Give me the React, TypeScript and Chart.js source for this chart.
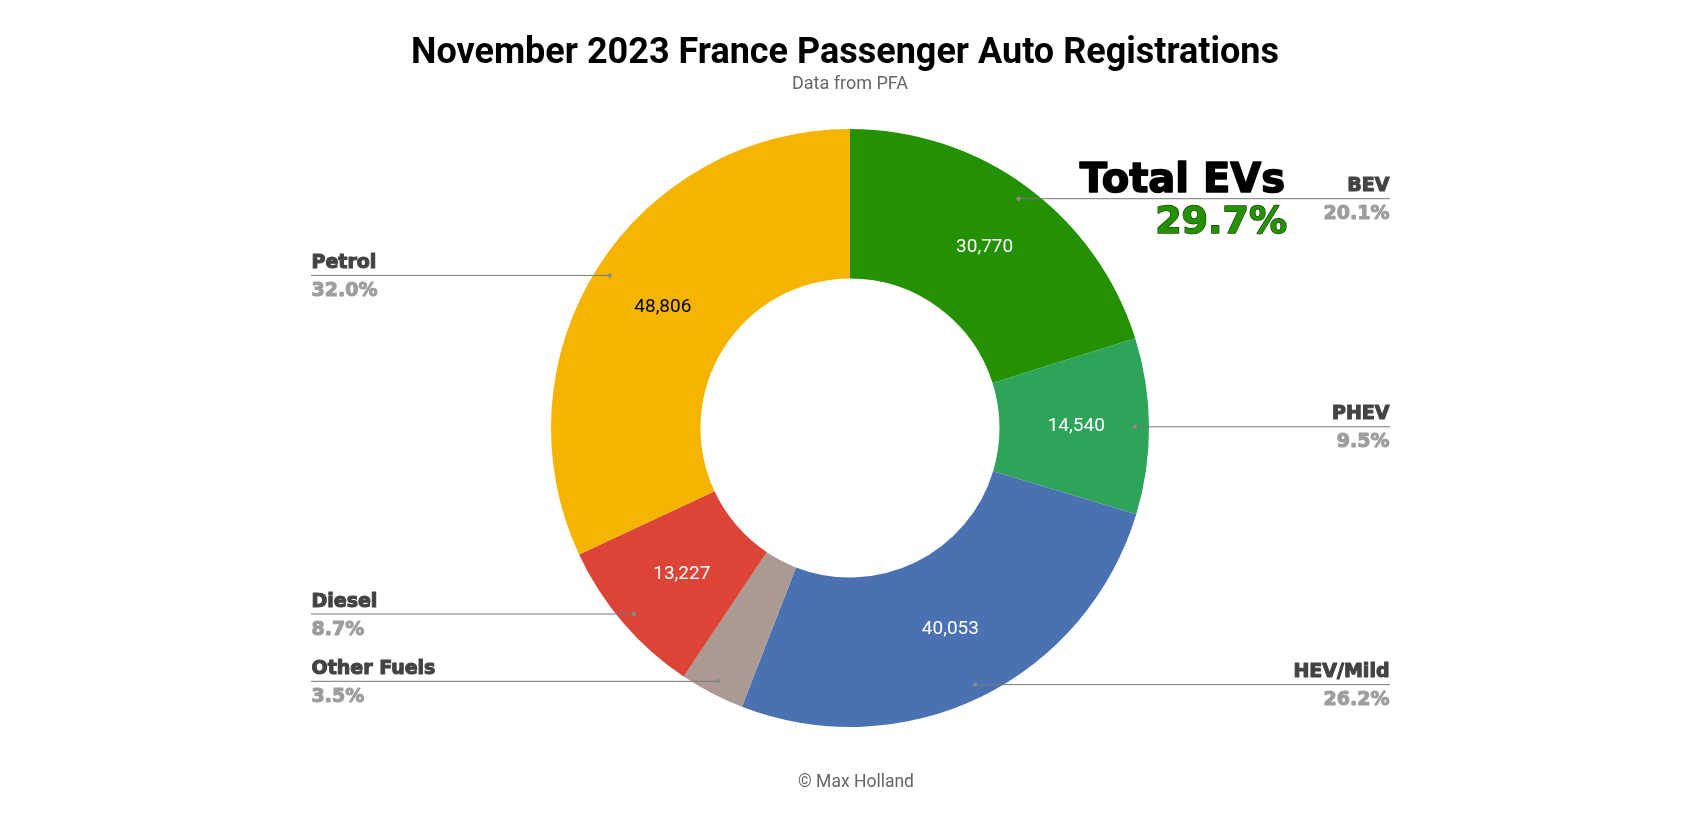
import React, { useEffect, useRef } from 'react';
import { Chart, registerables } from 'chart.js';

Chart.register(...registerables);

// fuel types, clockwise from 12 o'clock
const categories = ['BEV', 'PHEV', 'HEV/Mild', 'Other Fuels', 'Diesel', 'Petrol'];
const registrations = [30770, 14540, 40053, 5350, 13227, 48806];
const sliceColors = ['#239100', '#2ea45b', '#4a72b3', '#ab9a91', '#db4437', '#f4b400'];
const valueColors = ['#ffffff', '#ffffff', '#ffffff', '', '#ffffff', '#000000'];
const labelSides = ['right', 'right', 'right', 'left', 'left', 'left'];
const evCategories = ['BEV', 'PHEV'];

const titleText = 'November 2023 France Passenger Auto Registrations';
const subtitleText = 'Data from PFA';
const footerText = '\u00a9 Max Holland';

const HEAVY = '"DejaVu Sans", sans-serif';
const ROBOTO = 'Roboto, "Noto Sans", sans-serif';

const total = registrations.reduce((a, b) => a + b, 0);
const pct = (v: number) => ((v / total) * 100).toFixed(1) + '%';
const evShare = pct(
  categories.reduce((s, c, i) => (evCategories.includes(c) ? s + registrations[i] : s), 0)
);

// fill + same-colour stroke to fake a black-weight face
const heavyText = (ctx: CanvasRenderingContext2D, t: string, x: number, y: number, fill: string, stroke: string, w: number) => {
  ctx.fillStyle = fill;
  ctx.strokeStyle = stroke;
  ctx.lineWidth = w;
  ctx.lineJoin = 'round';
  ctx.strokeText(t, x, y);
  ctx.fillText(t, x, y);
};

const annotations = {
  id: 'annotations',
  afterDatasetsDraw(chart: any) {
    const { ctx } = chart;
    const meta = chart.getDatasetMeta(0);
    const leftX = 311;
    const rightX = 1390;

    ctx.save();
    meta.data.forEach((arc: any, i: number) => {
      const { x, y, startAngle, endAngle, outerRadius } = arc.getProps(
        ['x', 'y', 'startAngle', 'endAngle', 'outerRadius'],
        true
      );
      const mid = (startAngle + endAngle) / 2;
      const r = outerRadius - 14;
      const px = x + Math.cos(mid) * r;
      const py = y + Math.sin(mid) * r;
      const right = labelSides[i] === 'right';
      const endX = right ? rightX : leftX;

      // leader line
      ctx.strokeStyle = '#777777';
      ctx.lineWidth = 1;
      ctx.beginPath();
      ctx.moveTo(px, py + 0.5);
      ctx.lineTo(endX, py + 0.5);
      ctx.stroke();
      ctx.fillStyle = '#8a8a8a';
      ctx.beginPath();
      ctx.arc(px, py + 0.5, 2.2, 0, Math.PI * 2);
      ctx.fill();

      ctx.textAlign = right ? 'right' : 'left';
      ctx.textBaseline = 'alphabetic';
      ctx.font = `bold 19px ${HEAVY}`;
      const sx = right ? endX - 0.5 : endX + 0.5;
      heavyText(ctx, categories[i], sx, py - 7, '#434343', '#434343', 1.1);
      heavyText(ctx, pct(registrations[i]), sx, py + 21, '#9e9e9e', '#9e9e9e', 1.1);

      // value inside slice
      if (valueColors[i]) {
        const c = arc.tooltipPosition(true);
        ctx.font = `19px ${ROBOTO}`;
        ctx.textAlign = 'center';
        ctx.textBaseline = 'middle';
        ctx.fillStyle = valueColors[i];
        ctx.fillText(registrations[i].toLocaleString('en-US'), c.x + 2, c.y);
      }
    });

    // titles
    ctx.textAlign = 'center';
    ctx.textBaseline = 'alphabetic';
    ctx.fillStyle = '#000000';
    ctx.font = `bold 36px ${ROBOTO}`;
    ctx.fillText(titleText, 845, 63);
    ctx.fillStyle = '#666666';
    ctx.font = `18px ${ROBOTO}`;
    ctx.fillText(subtitleText, 850, 89);
    ctx.font = `17.5px ${ROBOTO}`;
    ctx.fillText(footerText, 856, 787);

    // total EV callout
    ctx.textAlign = 'right';
    ctx.font = `bold 40px ${HEAVY}`;
    heavyText(ctx, 'Total EVs', 1285, 192, '#000000', '#000000', 1.6);
    ctx.font = `bold 38px ${HEAVY}`;
    heavyText(ctx, evShare, 1287, 233, '#239100', '#1f3d05', 1.6);
    ctx.fillStyle = '#239100';
    ctx.fillText(evShare, 1287, 233);
    ctx.restore();
  },
};

const App: React.FC = () => {
  const canvasRef = useRef<HTMLCanvasElement>(null);

  useEffect(() => {
    const ctx = canvasRef.current?.getContext('2d');
    if (!ctx) return;

    const chart = new Chart(ctx, {
      type: 'doughnut',
      data: {
        labels: categories,
        datasets: [
          {
            data: registrations,
            backgroundColor: sliceColors,
            borderWidth: 0,
          },
        ],
      },
      options: {
        responsive: false,
        animation: false,
        cutout: '50%',
        layout: {
          padding: { left: 551, right: 534, top: 129, bottom: 106 },
        },
        plugins: {
          legend: { display: false },
          tooltip: { enabled: false },
        },
      },
      plugins: [annotations],
    });

    return () => {
      chart.destroy(); // clean up on unmount
    };
  }, []);

  return (
    <div style={{ position: 'fixed', left: 0, top: 0, width: 1683, height: 833, background: '#fff' }}>
      <canvas ref={canvasRef} width={1683} height={833} style={{ width: 1683, height: 833 }} />
    </div>
  );
};

export default App;
